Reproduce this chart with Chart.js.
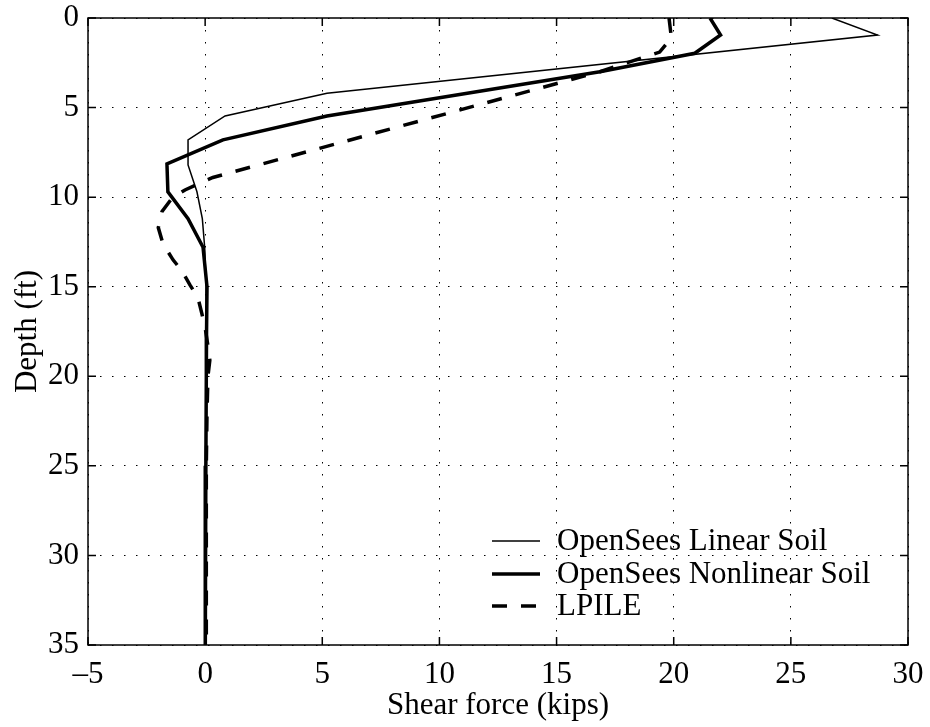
<!DOCTYPE html>
<html>
<head>
<meta charset="utf-8">
<script src="https://cdn.jsdelivr.net/npm/chart.js@4.4.1/dist/chart.umd.min.js"></script>
<style>
  html, body { margin: 0; padding: 0; background: #fff; }
</style>
</head>
<body>
<canvas id="shear-chart" width="930" height="727"></canvas>
<script>
// Shear force along the pile, three analyses

var xTicks = [-5, 0, 5, 10, 15, 20, 25, 30];
var yTicks = [0, 5, 10, 15, 20, 25, 30, 35];

// OpenSees linear soil
var linearDepth = [0, 0.95, 4.2, 5.47, 6.8, 8.2, 9.7, 11.2, 12.8, 15.0, 17.5, 20, 25, 30, 35];
var linearShear = [26.75, 28.7, 5.2, 0.85, -0.73, -0.73, -0.35, -0.12, -0.02, 0.04, 0.05, 0.05, 0.05, 0.05, 0.05];

// OpenSees nonlinear soil
var nonlinearDepth = [0, 0.95, 1.97, 3.0, 5.47, 6.8, 8.15, 9.7, 11.2, 12.8, 15.0, 17.5, 20, 25, 30, 35];
var nonlinearShear = [21.55, 22.0, 20.9, 16.85, 5.2, 0.76, -1.63, -1.59, -0.73, -0.09, 0.08, 0.06, 0.05, 0.03, 0.01, 0.0];

// LPILE
var lpileDepth = [0, 1.1, 1.9, 3.0, 8.9, 9.6, 10.05, 10.8, 11.7, 12.6, 13.5, 14.1, 14.9, 15.6, 16.5, 17.3, 18.3, 19.1, 20, 22, 25, 30, 35];
var lpileShear = [19.8, 19.9, 19.4, 16.85, 0.33, -0.86, -1.41, -1.84, -2.0, -1.8, -1.37, -1.0, -0.65, -0.31, -0.14, 0.0, 0.12, 0.2, 0.12, 0.08, 0.05, 0.05, 0.05];

var seriesNames = ["OpenSees Linear Soil", "OpenSees Nonlinear Soil", "LPILE"];

function toPoints(xs, ys) {
    return xs.map(function (x, i) { return { x: x, y: ys[i] }; });
}

function dashMinus(v) {
    return String(v).replace('-', '\u2013');
}

var FONT = '"Liberation Serif", "Times New Roman", serif';

// box, inward ticks on all sides and the legend inside the axes (matlab look)
var matlabAxes = {
    id: 'matlabAxes',
    afterDatasetsDraw: function (chart) {
        var ctx = chart.ctx;
        var a = chart.chartArea;
        var xs = chart.scales.x, ys = chart.scales.y;
        ctx.save();
        ctx.strokeStyle = '#000';
        ctx.lineWidth = 1.5;
        ctx.setLineDash([]);
        ctx.strokeRect(a.left, a.top, a.right - a.left, a.bottom - a.top);
        ctx.beginPath();
        xTicks.forEach(function (v) {
            var px = xs.getPixelForValue(v);
            ctx.moveTo(px, a.bottom); ctx.lineTo(px, a.bottom - 8);
            ctx.moveTo(px, a.top); ctx.lineTo(px, a.top + 8);
        });
        yTicks.forEach(function (v) {
            var py = ys.getPixelForValue(v);
            ctx.moveTo(a.left, py); ctx.lineTo(a.left + 8, py);
            ctx.moveTo(a.right, py); ctx.lineTo(a.right - 8, py);
        });
        ctx.stroke();

        // legend
        var x0 = a.right - 416, x1 = a.right - 368, tx = a.right - 351;
        var rowY = [a.bottom - 104, a.bottom - 71, a.bottom - 39];
        ctx.font = '31px ' + FONT;
        ctx.fillStyle = '#000';
        ctx.textBaseline = 'middle';
        ctx.textAlign = 'left';
        chart.data.datasets.forEach(function (ds, i) {
            ctx.lineWidth = ds.borderWidth;
            ctx.setLineDash(ds.borderDash || []);
            ctx.beginPath();
            ctx.moveTo(x0, rowY[i]);
            ctx.lineTo(x1, rowY[i]);
            ctx.stroke();
            ctx.fillText(ds.label, tx, rowY[i] + 1);
        });
        ctx.restore();
    }
};

new Chart(document.getElementById("shear-chart"), {
    type: 'scatter',
    data: {
        datasets: [
            {
                label: seriesNames[0],
                data: toPoints(linearShear, linearDepth),
                borderColor: '#000',
                borderWidth: 1.5,
                showLine: true,
                pointRadius: 0
            },
            {
                label: seriesNames[1],
                data: toPoints(nonlinearShear, nonlinearDepth),
                borderColor: '#000',
                borderWidth: 3.5,
                showLine: true,
                pointRadius: 0
            },
            {
                label: seriesNames[2],
                data: toPoints(lpileShear, lpileDepth),
                borderColor: '#000',
                borderWidth: 3.5,
                borderDash: [15, 14],
                showLine: true,
                pointRadius: 0
            }
        ]
    },
    options: {
        responsive: false,
        animation: false,
        devicePixelRatio: 1,
        layout: { padding: { top: 18, right: 22, left: 0, bottom: 0 } },
        plugins: {
            legend: { display: false },
            tooltip: { enabled: false }
        },
        scales: {
            x: {
                type: 'linear',
                min: -5,
                max: 30,
                afterBuildTicks: function (scale) {
                    scale.ticks = xTicks.map(function (v) { return { value: v }; });
                },
                afterFit: function (scale) {
                    scale.height = 82;
                    scale.paddingLeft = 0;
                    scale.paddingRight = 0;
                },
                grid: { color: '#000', lineWidth: 1, drawTicks: false },
                border: { display: false, dash: [1.5, 10.5] },
                ticks: {
                    color: '#000',
                    padding: 11,
                    maxRotation: 0,
                    font: { family: FONT, size: 31 },
                    callback: dashMinus
                },
                title: {
                    display: true,
                    text: 'Shear force (kips)',
                    color: '#000',
                    font: { family: FONT, size: 31 },
                    padding: { top: 0, bottom: 3 }
                }
            },
            y: {
                type: 'linear',
                reverse: true,
                min: 0,
                max: 35,
                afterBuildTicks: function (scale) {
                    scale.ticks = yTicks.map(function (v) { return { value: v }; });
                },
                afterFit: function (scale) {
                    scale.width = 88;
                    scale.paddingTop = 0;
                    scale.paddingBottom = 0;
                },
                grid: { color: '#000', lineWidth: 1, drawTicks: false },
                border: { display: false, dash: [1.5, 10.5] },
                ticks: {
                    color: '#000',
                    padding: 9,
                    font: { family: FONT, size: 31 },
                    callback: dashMinus
                },
                title: {
                    display: true,
                    text: 'Depth (ft)',
                    color: '#000',
                    font: { family: FONT, size: 31 },
                    padding: { top: 9, bottom: 0 }
                }
            }
        }
    },
    plugins: [matlabAxes]
});
</script>
</body>
</html>
